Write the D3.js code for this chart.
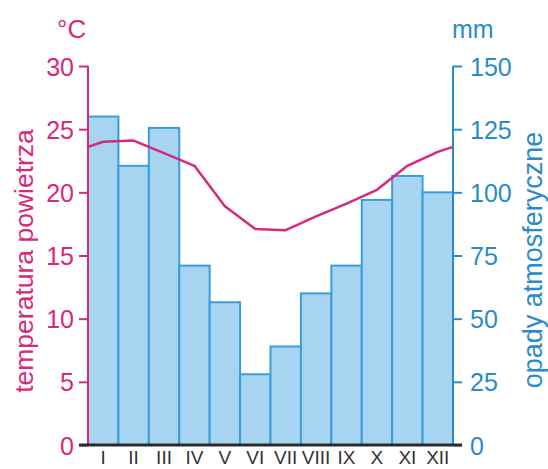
<!DOCTYPE html>
<html><head><meta charset="utf-8">
<script src="https://cdn.jsdelivr.net/npm/d3@7"></script>
<style>body{margin:0;background:#fff}svg{display:block}text{font-family:"Liberation Sans",Arial,sans-serif}</style>
</head><body>
<script>
const months = ["I","II","III","IV","V","VI","VII","VIII","IX","X","XI","XII"];
const precipitation = [130, 110.5, 125.5, 71, 56.5, 28, 39, 60, 71, 97, 106.5, 100];
const temperature = [24.0, 24.1, 23.1, 22.1, 18.9, 17.1, 17.0, 18.1, 19.1, 20.2, 22.1, 23.2];
const tempTicks = [0,5,10,15,20,25,30];
const precTicks = [0,25,50,75,100,125,150];

const W=548,H=469, L=88, R=453, T=66, B=445;
const magenta="#d6297c", blue="#2b8bc8";
const svg=d3.select("body").append("svg").attr("width",W).attr("height",H);

const x=d3.scaleBand().domain(months).range([L,R]).padding(0);
const yT=d3.scaleLinear().domain([0,30]).range([B,T]);
const yP=d3.scaleLinear().domain([0,150]).range([B,T]);

// bars
svg.append("g").selectAll("rect").data(precipitation).join("rect")
 .attr("x",(d,i)=>x(months[i])).attr("width",x.bandwidth())
 .attr("y",d=>yP(d)).attr("height",d=>B-yP(d))
 .attr("fill","#a6d4f1").attr("stroke","#3a9ed8").attr("stroke-width",2);

// temperature line, extended to axes by wrap-around interpolation
const cx=i=>x(months[i])+x.bandwidth()/2;
const n=temperature.length;
const edge=(temperature[0]+temperature[n-1])/2;
const pts=[[L,yT(edge)]].concat(temperature.map((t,i)=>[cx(i),yT(t)])).concat([[R,yT(edge)]]);
svg.append("path").attr("d",d3.line()(pts)).attr("fill","none")
 .attr("stroke",magenta).attr("stroke-width",2.5).attr("stroke-linejoin","round");

// left axis
const la=svg.append("g").attr("transform",`translate(${L},0)`)
 .call(d3.axisLeft(yT).tickValues(tempTicks).tickSize(9).tickPadding(5));
la.select(".domain").attr("stroke",magenta).attr("stroke-width",2).attr("d",`M0,${T}V${B}`);
la.selectAll(".tick line").attr("stroke",magenta).attr("stroke-width",2);
la.selectAll(".tick text").attr("fill",magenta).attr("font-size",25).attr("dy","0.36em").attr("font-family","Liberation Sans, Arial, sans-serif");

// right axis
const ra=svg.append("g").attr("transform",`translate(${R},0)`)
 .call(d3.axisRight(yP).tickValues(precTicks).tickSize(9).tickPadding(8));
ra.select(".domain").attr("stroke",blue).attr("stroke-width",2).attr("d",`M0,${T}V${B}`);
ra.selectAll(".tick line").attr("stroke",blue).attr("stroke-width",2);
ra.selectAll(".tick text").attr("fill",blue).attr("font-size",25).attr("dy","0.36em").attr("font-family","Liberation Sans, Arial, sans-serif");

// baseline
svg.append("line").attr("x1",79).attr("x2",462).attr("y1",B).attr("y2",B)
 .attr("stroke","#2b2b2b").attr("stroke-width",3);

// month labels
svg.append("g").selectAll("text").data(months).join("text")
 .attr("x",d=>x(d)+x.bandwidth()/2).attr("y",464).attr("text-anchor","middle")
 .attr("font-size",19).attr("fill","#333")
 .style("font-family","'Liberation Sans Narrow','Arial Narrow',sans-serif")
 .text(d=>d);

// units
svg.append("text").attr("x",57).attr("y",38).attr("font-size",26).attr("fill",magenta).text("°C");
svg.append("text").attr("x",452).attr("y",38).attr("font-size",25).attr("fill",blue).text("mm");

// axis titles
svg.append("text").attr("transform","translate(33,261) rotate(-90)").attr("text-anchor","middle")
 .attr("font-size",26.5).attr("fill",magenta).text("temperatura powietrza");
svg.append("text").attr("transform","translate(542,260) rotate(-90)").attr("text-anchor","middle")
 .attr("font-size",27).attr("fill",blue).text("opady atmosferyczne");
</script>
</body></html>
